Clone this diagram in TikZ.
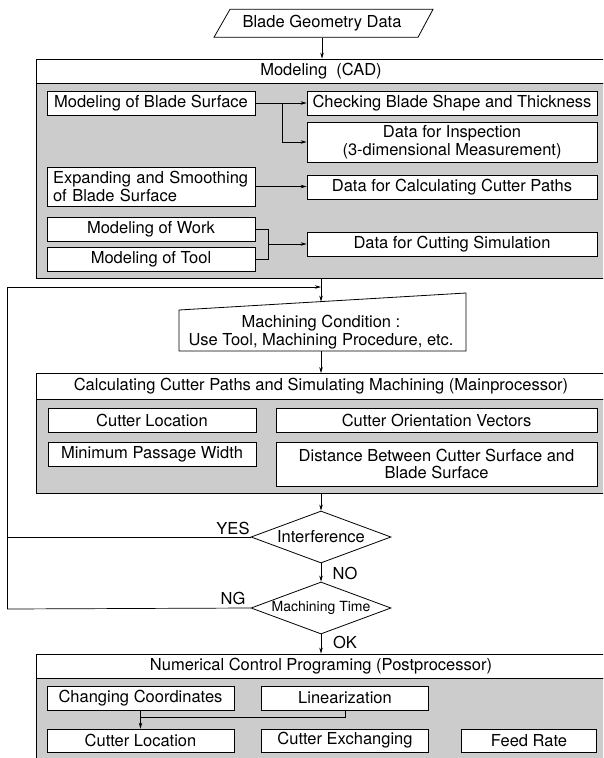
\documentclass[tikz,border=0pt]{standalone}
\usepackage{fontspec}
\setmainfont{TeX Gyre Heros}
\usetikzlibrary{arrows.meta,shapes.geometric,calc}
\definecolor{panel}{RGB}{204,204,204}
\begin{document}
\begin{tikzpicture}[x=1pt,y=-1pt,
  every node/.style={font=\fontsize{16.5}{17.5}\selectfont},
  box/.style={draw, fill=white, line width=0.8pt, inner sep=0pt, align=center},
  band/.style={draw, fill=white, line width=0.8pt, inner sep=0pt, minimum width=600pt},
  body/.style={draw, fill=panel, line width=0.8pt, inner sep=0pt, minimum width=600pt},
  arr/.style={-{Stealth[length=6pt,width=3.5pt]}, line width=0.7pt},
  conn/.style={line width=0.7pt},
  dec/.style={diamond, draw, fill=white, line width=0.8pt, aspect=2.7, minimum width=140pt, minimum height=52pt, inner sep=0pt},
  lbl/.style={inner sep=0pt},
]
\clip (0,0) rectangle (603,758);
\fill[white] (0,0) rectangle (603,758);

% Blade geometry data (parallelogram)
\node[lbl, minimum height=28pt] (bgd) at (322,23.3) {Blade Geometry Data};
\draw[line width=0.8pt] (214,37.3) -- (230,9.3) -- (433,9.3) -- (418,37.3) -- cycle;

% Modeling (CAD)
\node[body, minimum height=195pt] (modbody) at (336.5,180.5) {};
\node[band, minimum height=24pt] (modband) at (336.5,71) {};
\node[lbl] (modtitle) at (321,71) {Modeling\ \ (CAD)};

\node[box, minimum width=208pt, minimum height=24pt] (mbs) at (151,103) {Modeling of Blade Surface};
\node[box, minimum width=290pt, minimum height=24pt] (chk) at (452,103) {Checking Blade Shape and Thickness};
\node[box, minimum width=290pt, minimum height=40pt] (insp) at (452,142) {Data for Inspection\\(3-dimensional Measurement)};
\node[box, text width=196pt, inner xsep=6pt, align=left, minimum height=39pt] (exp) at (151,186.5) {Expanding and Smoothing\\of Blade Surface};
\node[box, minimum width=290pt, minimum height=24pt] (calc) at (452,187) {Data for Calculating Cutter Paths};
\node[box, minimum width=208pt, minimum height=24pt] (work) at (151,229) {Modeling of Work};
\node[box, minimum width=208pt, minimum height=24pt] (tool) at (151,259) {Modeling of Tool};
\node[box, minimum width=290pt, minimum height=24pt] (csim) at (452,244) {Data for Cutting Simulation};

\coordinate (jm) at (282,103);
\coordinate (jw) at (268,229);
\coordinate (jt) at (268,259);
\coordinate (jc) at (268,244);
\coordinate (mainx) at (321,0);
\draw[arr] (bgd.south) -- (bgd.south |- modband.north);
\draw[arr] (mbs.east) -- (chk.west);
\draw[arr] (jm) |- (insp.west);
\draw[arr] (exp.east) -- (exp.east -| calc.west);
\draw[conn] (work.east) -- (jw) -- (jt) -- (tool.east);
\draw[arr] (jc) -- (csim.west);

% Machining condition (manual input)
\coordinate (mctop) at (321,301.6);
\coordinate (mcbot) at (321,351);
\draw[line width=0.8pt, fill=white] (179,310) -- (466,293) -- (466,351) -- (179,351) -- cycle;
\node[lbl, align=center, font=\fontsize{16.5}{17.5}\selectfont] (mc) at (321,332) {Machining Condition :\\Use Tool, Machining Procedure, etc.};

% feedback
\coordinate (fbtop) at (7.5,287);
\coordinate (fbin) at (321,287);
\coordinate (fbbot) at (7.5,609);
\draw[arr] (mainx |- modbody.south) -- (mctop);
\draw[arr] (fbtop) -- (fbin);

% Calculating cutter paths
\node[body, minimum height=94pt] (cpbody) at (336.5,446.5) {};
\node[band, minimum height=26pt] (cpband) at (336.5,386.5) {};
\node[lbl] (cptitle) at (321,386.5) {Calculating Cutter Paths and Simulating Machining (Mainprocessor)};
\draw[arr] (mcbot) -- (mcbot |- cpband.north);

\node[box, minimum width=208pt, minimum height=24pt] (cl) at (152,420) {Cutter Location};
\node[box, minimum width=321pt, minimum height=24pt] (cov) at (436.5,420) {Cutter Orientation Vectors};
\node[box, minimum width=208pt, minimum height=24pt] (mpw) at (152,454) {Minimum Passage Width};
\node[box, minimum width=321pt, minimum height=44pt] (dist) at (436.5,464) {Distance Between Cutter Surface and\\Blade Surface};

% decisions
\node[dec] (intf) at (321,537) {Interference};
\node[dec, font=\fontsize{14}{16}\selectfont] (mt) at (321,608) {Machining Time};
\draw[arr] (intf.north |- cpbody.south) -- (intf.north);
\draw[arr] (intf.south) -- (mt.north);
\draw[conn] (intf.west) -- (intf.west -| fbtop);
\draw[conn] (mt.west) -- (fbbot) -- (fbtop);

\node[lbl] (yes) at (233,528) {YES};
\node[lbl] (ng) at (233,598) {NG};
\node[lbl] (no) at (345,573) {NO};
\node[lbl] (ok) at (345,642) {OK};

% NC programming
\node[body, minimum height=92pt] (ncbody) at (336.5,724) {};
\node[band, minimum height=24pt] (ncband) at (336.5,666) {};
\node[lbl] (nctitle) at (321,666) {Numerical Control Programing (Postprocessor)};
\draw[arr] (mt.south) -- (mt.south |- ncband.north);

\node[box, minimum width=187pt, minimum height=24pt] (cc) at (140.5,698) {Changing Coordinates};
\node[box, minimum width=167.5pt, minimum height=24pt] (lin) at (345,698) {Linearization};
\node[box, minimum width=187pt, minimum height=23pt] (cl2) at (140.5,740.5) {Cutter Location};
\node[box, minimum width=167.5pt, minimum height=23pt] (cex) at (345,740.5) {Cutter Exchanging};
\node[box, minimum width=135.5pt, minimum height=23pt] (fr) at (529,740.5) {Feed Rate};

\coordinate (jl) at (345,717);
\draw[conn] (lin.south) -- (jl) -- (jl -| cc.south);
\draw[arr] (cc.south) -- (cl2.north);
\end{tikzpicture}
\end{document}
